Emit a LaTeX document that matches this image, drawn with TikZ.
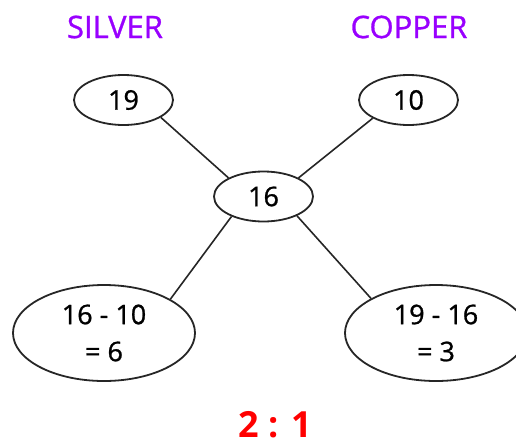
\documentclass[tikz,border=0pt]{standalone}
\usepackage{fontspec}
\setmainfont{Open Sans}
\newfontfamily\medfont{Open Sans}[FakeBold=0.9]
\usetikzlibrary{shapes.geometric}
\definecolor{lbl}{RGB}{153,0,255}
\definecolor{ratio}{RGB}{255,0,0}
\begin{document}
\begin{tikzpicture}[x=1pt,y=-1pt,
  oval/.style={draw=black!85,line width=1.8pt,ellipse,inner sep=0pt,font=\medfont\fontsize{27}{37}\selectfont,align=center},
  small/.style={oval,minimum width=99pt,minimum height=50pt},
  big/.style={oval,minimum width=182pt,minimum height=96pt},
  link/.style={draw=black!85,line width=1.6pt},
  head/.style={text=lbl,font=\medfont\fontsize{31}{36}\selectfont}]
\useasboundingbox (0,0) rectangle (516,445);
\node[head] (silver) at (115,27) {SILVER};
\node[head] (copper) at (409,27) {COPPER};
\node[small] (a) at (123.5,100) {19};
\node[small] (b) at (408.5,100) {10};
\node[small] (c) at (263.5,196.5) {16};
\node[big] (d) at (104,333) {16 - 10\\= 6};
\node[big] (e) at (436,333) {19 - 16\\= 3};
\node[text=ratio,font=\fontsize{36}{40}\selectfont\bfseries] (r) at (275,425) {2 : 1};
\draw[link] (a.-25) -- (c.152);
\draw[link] (b.-153) -- (c.28);
\draw[link] (c.-148) -- (d.27);
\draw[link] (c.-30) -- (e.152);
\end{tikzpicture}
\end{document}
